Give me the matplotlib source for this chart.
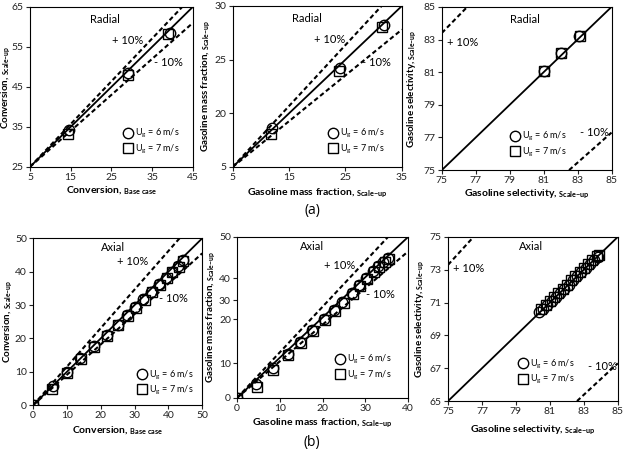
import matplotlib
matplotlib.use('Agg')
import matplotlib.pyplot as plt

plt.rcParams['font.family'] = ['Lato', 'DejaVu Sans']
plt.rcParams['mathtext.fontset'] = 'custom'
plt.rcParams['mathtext.rm'] = 'Lato'
plt.rcParams['mathtext.bf'] = 'Lato:bold'
plt.rcParams['mathtext.it'] = 'Lato:italic'

# ---- data ----
# (a) radial, conversion
conv_r_x6 = [14.5, 29.2, 39.5]
conv_r_y6 = [34.3, 48.4, 58.6]
conv_r_x7 = [14.3, 29.0, 39.0]
conv_r_y7 = [33.2, 48.0, 58.2]

# (a) radial, gasoline mass fraction (y axis drawn 15..30, bottom tick labelled "5")
gmf_r_x6 = [12.0, 24.0, 31.8]
gmf_r_y6 = [18.6, 24.2, 28.2]
gmf_r_x7 = [11.8, 23.8, 31.4]
gmf_r_y7 = [18.1, 23.9, 28.0]

# (a) radial, gasoline selectivity
sel_r_x6 = [81.0, 82.05, 83.1]
sel_r_y6 = [81.05, 82.15, 83.2]
sel_r_x7 = [81.0, 82.05, 83.15]
sel_r_y7 = [81.05, 82.15, 83.2]

# (b) axial, conversion
conv_a_x6 = [0, 5.8, 10, 14, 18, 21.8, 25, 27.8, 30.2, 32.6, 35, 37.2, 39.2, 41, 42.8, 44.2]
conv_a_y6 = [0, 5.8, 10, 14, 17.8, 21, 24, 27, 29.3, 31.8, 34, 36.2, 38, 40, 41.8, 43.4]
conv_a_x7 = [0, 5.5, 10, 14.2, 18, 21.8, 25, 28, 30.5, 33, 35.2, 37.5, 39.5, 41.2, 43, 44.2]
conv_a_y7 = [0, 4.8, 9.8, 13.8, 17.5, 20.8, 24, 26.8, 29, 31.5, 33.8, 36, 38, 40, 41.5, 43.2]

# (b) axial, gasoline mass fraction
gmf_a_x6 = [0, 4.4, 8.3, 11.8, 14.7, 17.6, 20.4, 22.7, 24.6, 26.8, 28.5, 30.2, 31.7, 33.0, 34.2, 35.4]
gmf_a_y6 = [0, 4.4, 9.3, 13.7, 17.4, 21.1, 24.4, 27.4, 29.9, 32.5, 35.1, 37.3, 39.4, 40.9, 42.3, 43.5]
gmf_a_x7 = [0, 4.6, 8.5, 12.0, 15.0, 17.8, 20.6, 22.9, 24.9, 27.0, 28.8, 30.5, 32.0, 33.3, 34.5, 35.5]
gmf_a_y7 = [0, 3.5, 8.8, 13.3, 17.1, 20.8, 24.1, 27.0, 29.6, 32.3, 34.8, 37.0, 39.0, 40.6, 42.1, 43.3]

# (b) axial, gasoline selectivity
sel_a_x6 = [80.35, 80.6, 80.85, 81.1, 81.35, 81.6, 81.85, 82.1, 82.35, 82.6, 82.85, 83.1, 83.35, 83.6, 83.85]
sel_a_y6 = [70.4, 70.6, 70.85, 71.1, 71.35, 71.6, 71.85, 72.1, 72.35, 72.6, 72.85, 73.1, 73.35, 73.6, 73.8]
sel_a_x7 = [80.5, 80.75, 81.0, 81.25, 81.5, 81.75, 82.0, 82.25, 82.5, 82.75, 83.0, 83.25, 83.5, 83.75, 83.9]
sel_a_y7 = [70.6, 70.85, 71.1, 71.35, 71.6, 71.85, 72.1, 72.35, 72.6, 72.85, 73.1, 73.35, 73.6, 73.85, 73.9]

# parity line and +/-10 % lines (end points)
conv_r_par = ([5, 45], [25, 65]);   conv_r_up = ([5, 42.4], [25, 65]);   conv_r_lo = ([5, 45], [25, 61])
gmf_r_par = ([5, 35], [15, 30]);    gmf_r_up = ([5, 31.4], [15, 30]);    gmf_r_lo = ([5, 35], [15, 27.8])
sel_r_par = ([75, 85], [75, 85]);   sel_r_up = ([75, 76.5], [83.4, 85]); sel_r_lo = ([82.5, 85], [75, 77.3])
conv_a_par = ([0, 50], [0, 50]);    conv_a_up = ([0, 43.3], [0, 50]);    conv_a_lo = ([0, 50], [0, 45.5])
gmf_a_par = ([0, 40], [0, 50]);     gmf_a_up = ([0, 35.3], [0, 50]);     gmf_a_lo = ([0, 40], [0, 45.5])
sel_a_par = ([75, 85], [65, 75]);   sel_a_up = ([75, 76.5], [73.3, 75]); sel_a_lo = ([82.6, 85], [65, 67.3])

# axis ranges and ticks
conv_r_xt = [5, 15, 25, 35, 45];   conv_r_yt = [25, 35, 45, 55, 65]
gmf_r_xt = [5, 15, 25, 35];        gmf_r_yt = [15, 20, 25, 30];  gmf_r_ytl = ['5', '20', '25', '30']
sel_xt = [75, 77, 79, 81, 83, 85]; sel_r_yt = [75, 77, 79, 81, 83, 85]
conv_a_xt = [0, 10, 20, 30, 40, 50]; conv_a_yt = [0, 10, 20, 30, 40, 50]
gmf_a_xt = [0, 10, 20, 30, 40]
gmf_a_yt = [0, 10.8, 24.4, 30.4, 37.2, 50]; gmf_a_ytl = ['0', '10', '20', '30', '40', '50']
sel_a_yt = [65, 67, 69, 71, 73, 75]

panels = [
    dict(rect=[0.048, 0.638, 0.261, 0.347], x6=conv_r_x6, y6=conv_r_y6, x7=conv_r_x7, y7=conv_r_y7,
         par=conv_r_par, up=conv_r_up, lo=conv_r_lo, xlim=(5, 45), ylim=(25, 65),
         xt=conv_r_xt, yt=conv_r_yt, ytl=None, title='Radial',
         xl=r'Conversion, ${}_{\mathbf{Base\ case}}$', yl=r'Conversion, ${}_{\mathbf{Scale{-}up}}$',
         tpos=(0.46, 0.92), ppos=(0.6, 0.79), mpos=(0.85, 0.65), leg=(0.57, 0.07),
         xlc=-0.11, ylc=-0.104),
    dict(rect=[0.373, 0.638, 0.271, 0.349], x6=gmf_r_x6, y6=gmf_r_y6, x7=gmf_r_x7, y7=gmf_r_y7,
         par=gmf_r_par, up=gmf_r_up, lo=gmf_r_lo, xlim=(5, 35), ylim=(15, 30),
         xt=gmf_r_xt, yt=gmf_r_yt, ytl=gmf_r_ytl, title='Radial',
         xl=r'Gasoline mass fraction, ${}_{\mathbf{Scale{-}up}}$',
         yl=r'Gasoline mass fraction, ${}_{\mathbf{Scale{-}up}}$',
         tpos=(0.44, 0.92), ppos=(0.57, 0.79), mpos=(0.85, 0.65), leg=(0.56, 0.07),
         xlc=-0.124, ylc=-0.115),
    dict(rect=[0.708, 0.631, 0.272, 0.354], x6=sel_r_x6, y6=sel_r_y6, x7=sel_r_x7, y7=sel_r_y7,
         par=sel_r_par, up=sel_r_up, lo=sel_r_lo, xlim=(75, 85), ylim=(75, 85),
         xt=sel_xt, yt=sel_r_yt, ytl=None, title='Radial',
         xl=r'Gasoline selectivity, ${}_{\mathbf{Scale{-}up}}$',
         yl=r'Gasoline selectivity, ${}_{\mathbf{Scale{-}up}}$',
         tpos=(0.49, 0.92), ppos=(0.12, 0.78), mpos=(0.9, 0.23), leg=(0.40, 0.07),
         xlc=-0.11, ylc=-0.135),
    dict(rect=[0.053, 0.121, 0.271, 0.362], x6=conv_a_x6, y6=conv_a_y6, x7=conv_a_x7, y7=conv_a_y7,
         par=conv_a_par, up=conv_a_up, lo=conv_a_lo, xlim=(0, 50), ylim=(0, 50),
         xt=conv_a_xt, yt=conv_a_yt, ytl=None, title='Axial',
         xl=r'Conversion, ${}_{\mathbf{Base\ case}}$', yl=r'Conversion, ${}_{\mathbf{Scale{-}up}}$',
         tpos=(0.47, 0.945), ppos=(0.59, 0.86), mpos=(0.83, 0.64), leg=(0.61, 0.05),
         xlc=-0.114, ylc=-0.108),
    dict(rect=[0.380, 0.137, 0.274, 0.349], x6=gmf_a_x6, y6=gmf_a_y6, x7=gmf_a_x7, y7=gmf_a_y7,
         par=gmf_a_par, up=gmf_a_up, lo=gmf_a_lo, xlim=(0, 40), ylim=(0, 50),
         xt=gmf_a_xt, yt=gmf_a_yt, ytl=gmf_a_ytl, title='Axial',
         xl=r'Gasoline mass fraction, ${}_{\mathbf{Scale{-}up}}$',
         yl=r'Gasoline mass fraction, ${}_{\mathbf{Scale{-}up}}$',
         tpos=(0.44, 0.94), ppos=(0.6, 0.82), mpos=(0.84, 0.64), leg=(0.57, 0.1),
         xlc=-0.12, ylc=-0.112),
    dict(rect=[0.718, 0.130, 0.272, 0.356], x6=sel_a_x6, y6=sel_a_y6, x7=sel_a_x7, y7=sel_a_y7,
         par=sel_a_par, up=sel_a_up, lo=sel_a_lo, xlim=(75, 85), ylim=(65, 75),
         xt=sel_xt, yt=sel_a_yt, ytl=None, title='Axial',
         xl=r'Gasoline selectivity, ${}_{\mathbf{Scale{-}up}}$',
         yl=r'Gasoline selectivity, ${}_{\mathbf{Scale{-}up}}$',
         tpos=(0.49, 0.94), ppos=(0.12, 0.81), mpos=(0.91, 0.21), leg=(0.41, 0.09),
         xlc=-0.14, ylc=-0.125),
]

fig = plt.figure(figsize=(6.24, 4.61), dpi=100)

for p in panels:
    ax = fig.add_axes(p['rect'])
    ax.plot(*p['par'], color='black', lw=1.3, zorder=2)
    ax.plot(*p['up'], color='black', lw=1.5, ls=(0, (2.2, 1.4)), zorder=2)
    ax.plot(*p['lo'], color='black', lw=1.5, ls=(0, (2.2, 1.4)), zorder=2)
    ax.plot(p['x6'], p['y6'], 'o', ms=7.5, mfc='none', mec='black', mew=1.0,
            label=r'U$_\mathregular{g}$ = 6 m/s', zorder=3)
    ax.plot(p['x7'], p['y7'], 's', ms=7, mfc='none', mec='black', mew=1.0,
            label=r'U$_\mathregular{g}$ = 7 m/s', zorder=3)
    ax.set_xlim(p['xlim'])
    ax.set_ylim(p['ylim'])
    ax.set_xticks(p['xt'])
    ax.set_yticks(p['yt'])
    if p['ytl'] is not None:
        ax.set_yticklabels(p['ytl'])
    ax.tick_params(direction='out', length=3, width=0.8, labelsize=7.5, pad=1.5,
                   colors='#222222')
    for s in ax.spines.values():
        s.set_linewidth(0.8)
    ax.set_xlabel(p['xl'], fontsize=7.5, fontweight='bold')
    ax.set_ylabel(p['yl'], fontsize=7, fontweight='bold')
    ax.xaxis.set_label_coords(0.5, p['xlc'])
    ax.yaxis.set_label_coords(p['ylc'], 0.5)
    ax.text(*p['tpos'], p['title'], transform=ax.transAxes, ha='center', va='center', fontsize=8)
    ax.text(*p['ppos'], '+ 10%', transform=ax.transAxes, ha='center', va='center', fontsize=8)
    ax.text(*p['mpos'], '- 10%', transform=ax.transAxes, ha='center', va='center', fontsize=8)
    ax.legend(loc='lower left', bbox_to_anchor=p['leg'], frameon=False, fontsize=6.5,
              handletextpad=0.2, labelspacing=0.25, borderpad=0, handlelength=1.2,
              borderaxespad=0)

fig.text(0.5, 0.543, '(a)', ha='center', va='center', fontsize=10, family='Open Sans')
fig.text(0.5, 0.04, '(b)', ha='center', va='center', fontsize=10, family='Open Sans')

fig.savefig('out.png', dpi=100)
